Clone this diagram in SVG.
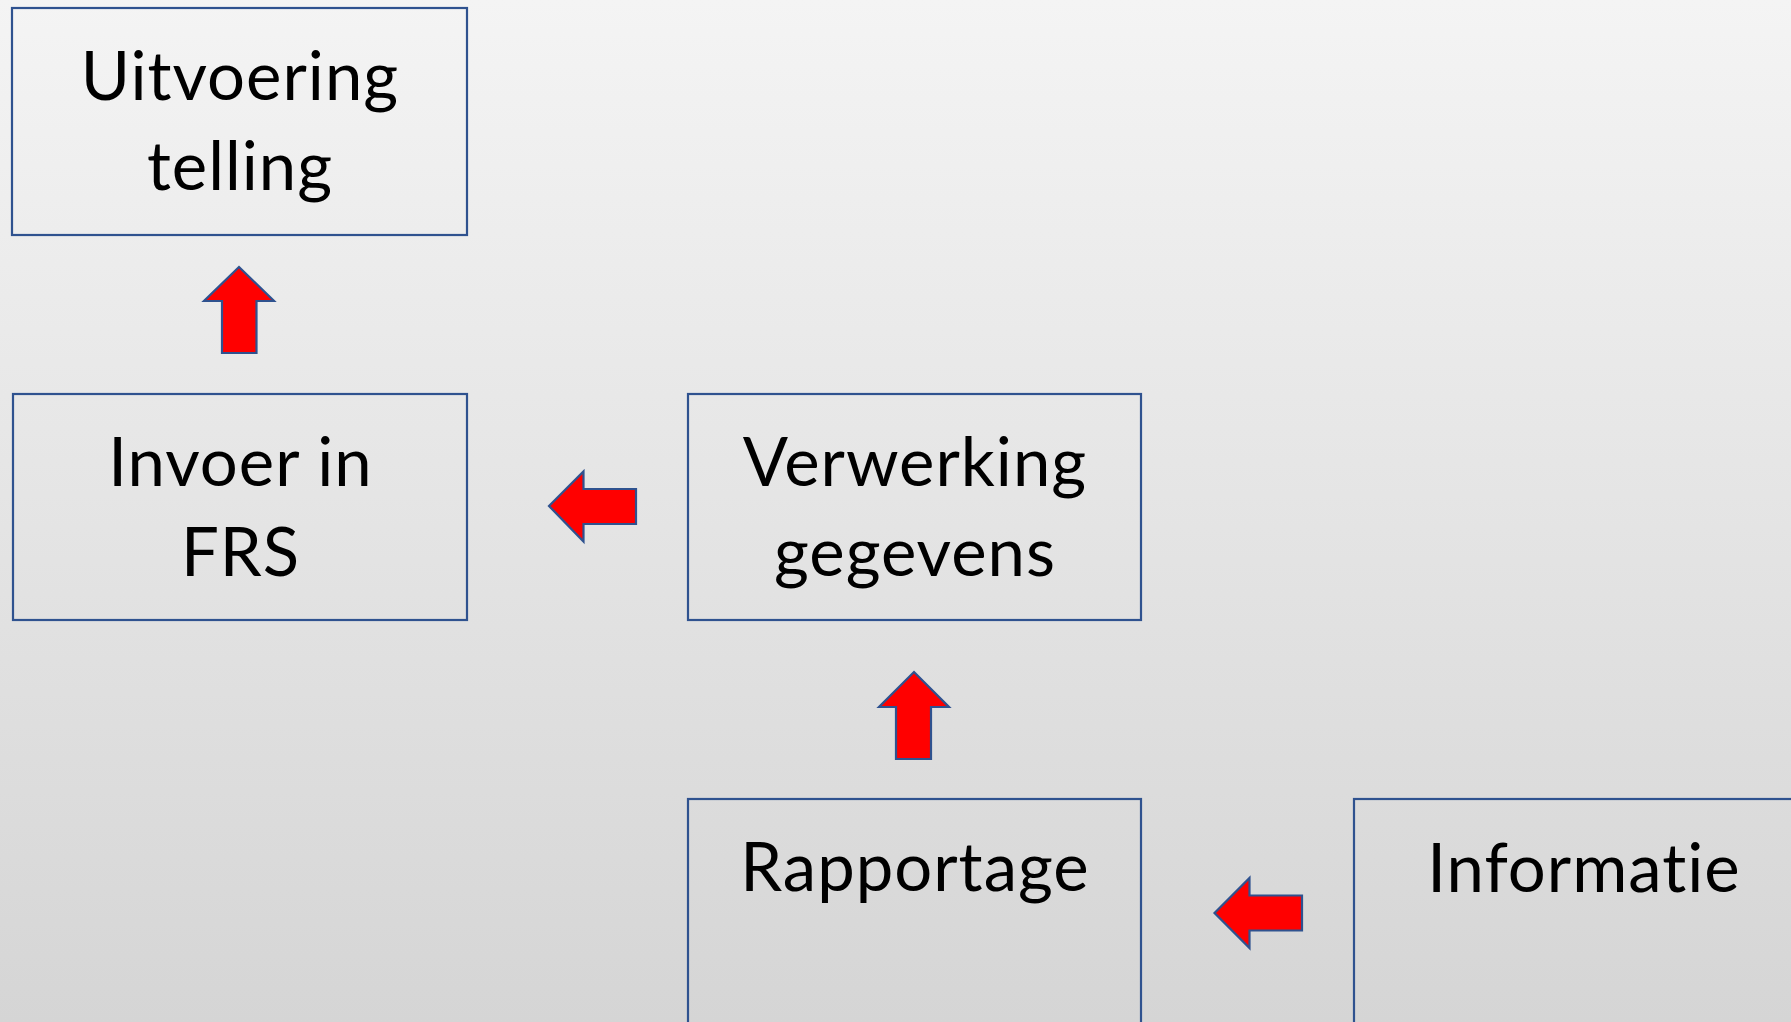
<svg xmlns="http://www.w3.org/2000/svg" width="1791" height="1022" viewBox="0 0 1791 1022">
<defs>
<linearGradient id="bg" x1="0" y1="0" x2="0" y2="1">
<stop offset="0" stop-color="#f4f4f4"/>
<stop offset="1" stop-color="#d5d5d5"/>
</linearGradient>
</defs>
<style>
.box{fill:none;stroke:#2f528f;stroke-width:2.2}
.lbl{font-family:Lato,"Liberation Sans",sans-serif;font-size:67px;letter-spacing:1px;fill:#000;text-anchor:middle;font-variant-ligatures:none;font-feature-settings:"liga" 0,"dlig" 0}
.arr{fill:#ff0000;stroke:#2f528f;stroke-width:2.2;stroke-linejoin:miter}
</style>
<rect x="0" y="0" width="1791" height="1022" fill="url(#bg)"/>
<g id="n-uitvoering">
<rect class="box" x="12" y="8" width="455" height="227"/>
<text class="lbl" x="240" y="100">Uitvoering</text>
<text class="lbl" x="240" y="190">telling</text>
</g>
<g id="n-invoer">
<rect class="box" x="13" y="394" width="454" height="226"/>
<text class="lbl" x="240.5" y="486">Invoer in</text>
<text class="lbl" x="240.5" y="576">FRS</text>
</g>
<g id="n-verwerking">
<rect class="box" x="688" y="394" width="453" height="226"/>
<text class="lbl" x="915" y="486">Verwerking</text>
<text class="lbl" x="915" y="576">gegevens</text>
</g>
<g id="n-rapportage">
<rect class="box" x="688" y="799" width="453" height="240"/>
<text class="lbl" x="915" y="891">Rapportage</text>
</g>
<g id="n-informatie">
<rect class="box" x="1354" y="799" width="460" height="240"/>
<text class="lbl" x="1584" y="892">Informatie</text>
</g>
<g id="connectors">
<polygon class="arr" points="239,267 274,301 256.5,301 256.5,353 222,353 222,301 204,301"/>
<polygon class="arr" points="549,506 583.5,471.5 583.5,489 636,489 636,524 583.5,524 583.5,541.5"/>
<polygon class="arr" points="914,672 949,707 931,707 931,759 896,759 896,707 879,707"/>
<polygon class="arr" points="1214.5,913 1249.5,878 1249.5,895.5 1302,895.5 1302,930.5 1249.5,930.5 1249.5,948"/>
</g>
</svg>
